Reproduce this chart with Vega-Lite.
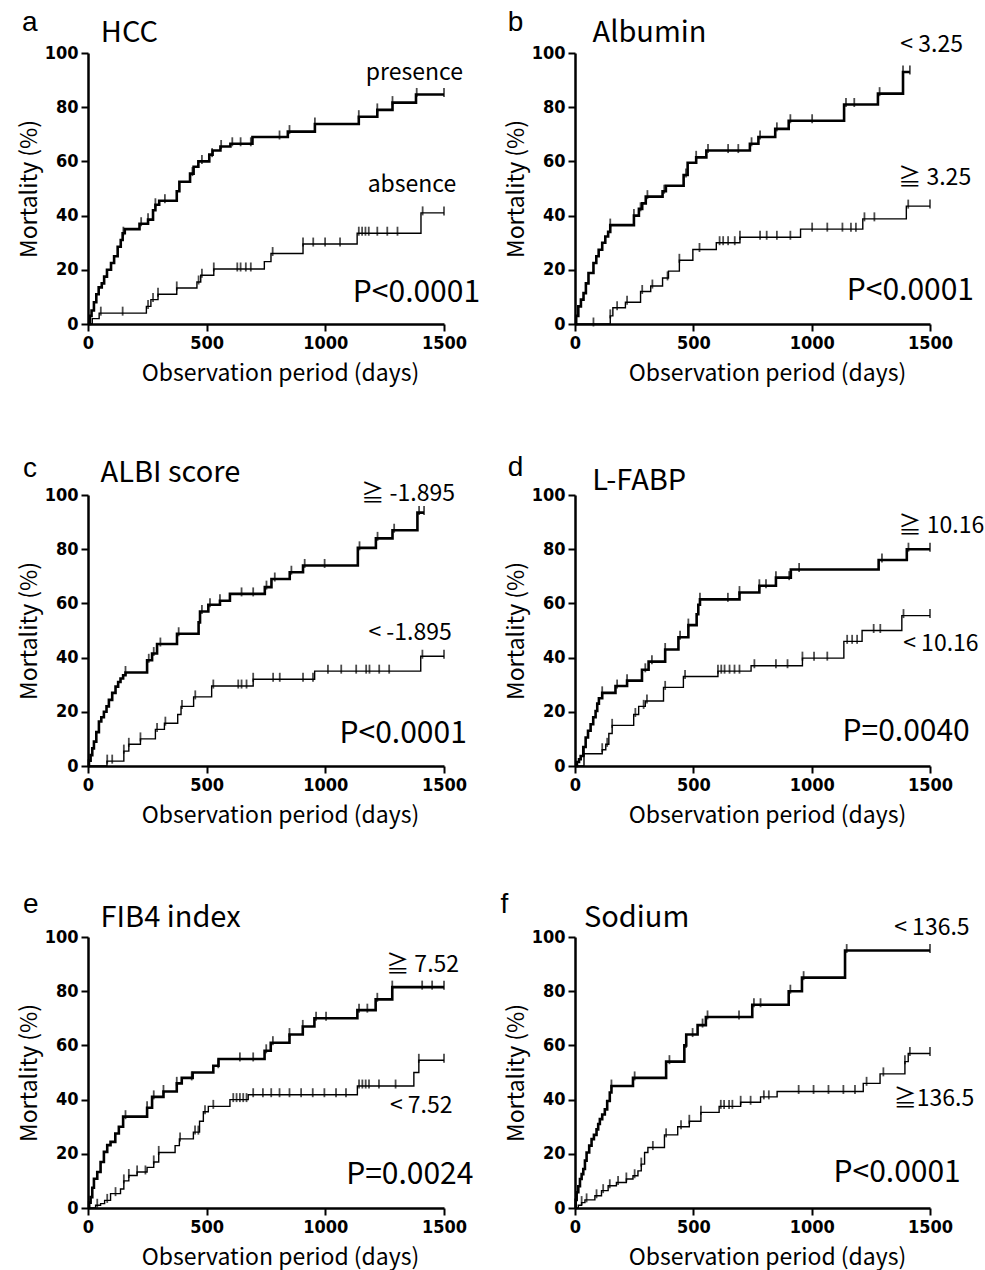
{
"$schema":"https://vega.github.io/schema/vega-lite/v6.json",
"background":"white",
"padding":{"left":18,"top":8,"right":5,"bottom":5},
"config":{
 "font":"Noto Sans CJK JP",
 "view":{"stroke":null},
 "axis":{"grid":false,"domainColor":"black","domainWidth":2.5,"tickColor":"black","tickWidth":2,"tickSize":7,"labelPadding":3,"labelFont":"Liberation Sans Narrow, DejaVu Sans Condensed, sans-serif","labelFontWeight":"bold","labelFontSize":18,"labelColor":"black","labelFlush":false,"labelOverlap":false,"titleFont":"Noto Sans CJK JP","titleFontWeight":"normal","titleFontSize":23,"titleColor":"black","titlePadding":6,"format":"d"},
 "axisX":{"titlePadding":10,"titleX":192,"titleAlign":"center"},
 "axisY":{"titlePadding":3},
 "style":{
  "letter":{"font":"Liberation Sans","fontSize":28,"align":"left","baseline":"alphabetic","fill":"black"},
  "ttl":{"font":"Noto Sans CJK JP","fontSize":29,"align":"left","baseline":"alphabetic","fill":"black"},
  "grp":{"font":"Noto Sans CJK JP","fontSize":23,"align":"center","baseline":"alphabetic","fill":"black"},
  "pv":{"font":"Noto Sans CJK JP","fontSize":30,"align":"right","baseline":"alphabetic","fill":"black"}
 }
},
"datasets":{
"one":[{}],
"km":[
{"p":"a","g":"hi","t":0,"m":0},{"p":"a","g":"hi","t":8,"m":3},{"p":"a","g":"hi","t":15,"m":5},{"p":"a","g":"hi","t":25,"m":8},{"p":"a","g":"hi","t":35,"m":11},{"p":"a","g":"hi","t":45,"m":13.5},{"p":"a","g":"hi","t":58,"m":15},{"p":"a","g":"hi","t":68,"m":17.5},{"p":"a","g":"hi","t":80,"m":20},{"p":"a","g":"hi","t":97,"m":22.5},{"p":"a","g":"hi","t":110,"m":25},{"p":"a","g":"hi","t":125,"m":28.5},{"p":"a","g":"hi","t":138,"m":31},{"p":"a","g":"hi","t":146,"m":33.5},{"p":"a","g":"hi","t":155,"m":35},{"p":"a","g":"hi","t":217,"m":37},{"p":"a","g":"hi","t":253,"m":38.5},{"p":"a","g":"hi","t":274,"m":42},{"p":"a","g":"hi","t":284,"m":44},{"p":"a","g":"hi","t":300,"m":45.5},{"p":"a","g":"hi","t":374,"m":49},{"p":"a","g":"hi","t":385,"m":52.5},{"p":"a","g":"hi","t":430,"m":55.5},{"p":"a","g":"hi","t":445,"m":58},{"p":"a","g":"hi","t":465,"m":60},{"p":"a","g":"hi","t":511,"m":62.5},{"p":"a","g":"hi","t":525,"m":64},{"p":"a","g":"hi","t":558,"m":65.5},{"p":"a","g":"hi","t":600,"m":66.5},{"p":"a","g":"hi","t":693,"m":69},{"p":"a","g":"hi","t":842,"m":71},{"p":"a","g":"hi","t":956,"m":73.8},{"p":"a","g":"hi","t":1141,"m":76.5},{"p":"a","g":"hi","t":1219,"m":79},{"p":"a","g":"hi","t":1283,"m":81.7},{"p":"a","g":"hi","t":1382,"m":84.7},{"p":"a","g":"hi","t":1500,"m":84.7},
{"p":"a","g":"lo","t":0,"m":0},{"p":"a","g":"lo","t":18,"m":2},{"p":"a","g":"lo","t":47,"m":4},{"p":"a","g":"lo","t":246,"m":6.5},{"p":"a","g":"lo","t":265,"m":9},{"p":"a","g":"lo","t":295,"m":11},{"p":"a","g":"lo","t":374,"m":13.3},{"p":"a","g":"lo","t":459,"m":15.5},{"p":"a","g":"lo","t":475,"m":18},{"p":"a","g":"lo","t":530,"m":20.3},{"p":"a","g":"lo","t":743,"m":23},{"p":"a","g":"lo","t":771,"m":26},{"p":"a","g":"lo","t":906,"m":29.5},{"p":"a","g":"lo","t":1134,"m":33.5},{"p":"a","g":"lo","t":1403,"m":41},{"p":"a","g":"lo","t":1500,"m":41},
{"p":"b","g":"hi","t":0,"m":0},{"p":"b","g":"hi","t":5,"m":3},{"p":"b","g":"hi","t":14,"m":6.5},{"p":"b","g":"hi","t":25,"m":9},{"p":"b","g":"hi","t":36,"m":11.4},{"p":"b","g":"hi","t":46,"m":15},{"p":"b","g":"hi","t":57,"m":18.8},{"p":"b","g":"hi","t":78,"m":22.5},{"p":"b","g":"hi","t":90,"m":25},{"p":"b","g":"hi","t":100,"m":27.4},{"p":"b","g":"hi","t":115,"m":30},{"p":"b","g":"hi","t":128,"m":32.3},{"p":"b","g":"hi","t":140,"m":34},{"p":"b","g":"hi","t":149,"m":36.5},{"p":"b","g":"hi","t":249,"m":40},{"p":"b","g":"hi","t":270,"m":42.5},{"p":"b","g":"hi","t":284,"m":44.5},{"p":"b","g":"hi","t":299,"m":47},{"p":"b","g":"hi","t":370,"m":49},{"p":"b","g":"hi","t":384,"m":51},{"p":"b","g":"hi","t":459,"m":55},{"p":"b","g":"hi","t":476,"m":59.5},{"p":"b","g":"hi","t":512,"m":61.5},{"p":"b","g":"hi","t":555,"m":64},{"p":"b","g":"hi","t":739,"m":66.5},{"p":"b","g":"hi","t":775,"m":69},{"p":"b","g":"hi","t":846,"m":72},{"p":"b","g":"hi","t":903,"m":75},{"p":"b","g":"hi","t":1137,"m":81},{"p":"b","g":"hi","t":1280,"m":85},{"p":"b","g":"hi","t":1386,"m":93},{"p":"b","g":"hi","t":1415,"m":93},
{"p":"b","g":"lo","t":0,"m":0},{"p":"b","g":"lo","t":149,"m":3},{"p":"b","g":"lo","t":160,"m":6},{"p":"b","g":"lo","t":213,"m":8},{"p":"b","g":"lo","t":277,"m":12},{"p":"b","g":"lo","t":320,"m":14},{"p":"b","g":"lo","t":370,"m":17},{"p":"b","g":"lo","t":395,"m":19.5},{"p":"b","g":"lo","t":441,"m":23.5},{"p":"b","g":"lo","t":498,"m":27.5},{"p":"b","g":"lo","t":597,"m":30},{"p":"b","g":"lo","t":697,"m":32},{"p":"b","g":"lo","t":953,"m":35},{"p":"b","g":"lo","t":1216,"m":38.8},{"p":"b","g":"lo","t":1400,"m":43.5},{"p":"b","g":"lo","t":1500,"m":43.5},
{"p":"c","g":"hi","t":0,"m":0},{"p":"c","g":"hi","t":4,"m":2},{"p":"c","g":"hi","t":11,"m":4},{"p":"c","g":"hi","t":18,"m":6.5},{"p":"c","g":"hi","t":25,"m":9},{"p":"c","g":"hi","t":35,"m":12.5},{"p":"c","g":"hi","t":46,"m":16.4},{"p":"c","g":"hi","t":56,"m":18},{"p":"c","g":"hi","t":67,"m":20},{"p":"c","g":"hi","t":78,"m":22},{"p":"c","g":"hi","t":88,"m":24.4},{"p":"c","g":"hi","t":102,"m":27},{"p":"c","g":"hi","t":116,"m":29.3},{"p":"c","g":"hi","t":127,"m":31},{"p":"c","g":"hi","t":137,"m":32.3},{"p":"c","g":"hi","t":148,"m":33.5},{"p":"c","g":"hi","t":158,"m":34.5},{"p":"c","g":"hi","t":249,"m":39},{"p":"c","g":"hi","t":270,"m":41.5},{"p":"c","g":"hi","t":291,"m":45},{"p":"c","g":"hi","t":375,"m":48.8},{"p":"c","g":"hi","t":466,"m":53},{"p":"c","g":"hi","t":472,"m":57},{"p":"c","g":"hi","t":507,"m":59.5},{"p":"c","g":"hi","t":556,"m":61},{"p":"c","g":"hi","t":598,"m":63.5},{"p":"c","g":"hi","t":745,"m":66},{"p":"c","g":"hi","t":773,"m":69},{"p":"c","g":"hi","t":850,"m":71.5},{"p":"c","g":"hi","t":906,"m":74},{"p":"c","g":"hi","t":1137,"m":80.5},{"p":"c","g":"hi","t":1213,"m":84},{"p":"c","g":"hi","t":1283,"m":87},{"p":"c","g":"hi","t":1388,"m":93.5},{"p":"c","g":"hi","t":1416,"m":93.5},
{"p":"c","g":"lo","t":0,"m":0},{"p":"c","g":"lo","t":80,"m":1.8},{"p":"c","g":"lo","t":151,"m":5.5},{"p":"c","g":"lo","t":172,"m":8},{"p":"c","g":"lo","t":221,"m":10},{"p":"c","g":"lo","t":284,"m":13.5},{"p":"c","g":"lo","t":322,"m":15.8},{"p":"c","g":"lo","t":378,"m":19},{"p":"c","g":"lo","t":392,"m":22},{"p":"c","g":"lo","t":445,"m":25.5},{"p":"c","g":"lo","t":521,"m":29.5},{"p":"c","g":"lo","t":696,"m":32},{"p":"c","g":"lo","t":955,"m":35},{"p":"c","g":"lo","t":1402,"m":40.5},{"p":"c","g":"lo","t":1500,"m":40.5},
{"p":"d","g":"hi","t":0,"m":0},{"p":"d","g":"hi","t":8,"m":1.5},{"p":"d","g":"hi","t":17,"m":2.5},{"p":"d","g":"hi","t":24,"m":3.7},{"p":"d","g":"hi","t":35,"m":7},{"p":"d","g":"hi","t":45,"m":10.5},{"p":"d","g":"hi","t":55,"m":13},{"p":"d","g":"hi","t":66,"m":15.4},{"p":"d","g":"hi","t":77,"m":18},{"p":"d","g":"hi","t":87,"m":20.3},{"p":"d","g":"hi","t":94,"m":23},{"p":"d","g":"hi","t":101,"m":25},{"p":"d","g":"hi","t":115,"m":27},{"p":"d","g":"hi","t":171,"m":29.5},{"p":"d","g":"hi","t":220,"m":31.5},{"p":"d","g":"hi","t":283,"m":35.5},{"p":"d","g":"hi","t":311,"m":38.5},{"p":"d","g":"hi","t":381,"m":43},{"p":"d","g":"hi","t":437,"m":47.5},{"p":"d","g":"hi","t":479,"m":52},{"p":"d","g":"hi","t":514,"m":56},{"p":"d","g":"hi","t":521,"m":59.5},{"p":"d","g":"hi","t":528,"m":61.5},{"p":"d","g":"hi","t":695,"m":64},{"p":"d","g":"hi","t":779,"m":66.5},{"p":"d","g":"hi","t":849,"m":69.5},{"p":"d","g":"hi","t":912,"m":72.5},{"p":"d","g":"hi","t":1283,"m":76},{"p":"d","g":"hi","t":1402,"m":80},{"p":"d","g":"hi","t":1500,"m":80},
{"p":"d","g":"lo","t":0,"m":0},{"p":"d","g":"lo","t":38,"m":4.5},{"p":"d","g":"lo","t":115,"m":6},{"p":"d","g":"lo","t":130,"m":8},{"p":"d","g":"lo","t":143,"m":12},{"p":"d","g":"lo","t":157,"m":15},{"p":"d","g":"lo","t":248,"m":19},{"p":"d","g":"lo","t":269,"m":22},{"p":"d","g":"lo","t":297,"m":24},{"p":"d","g":"lo","t":374,"m":29},{"p":"d","g":"lo","t":458,"m":33},{"p":"d","g":"lo","t":604,"m":35},{"p":"d","g":"lo","t":744,"m":37},{"p":"d","g":"lo","t":961,"m":39.8},{"p":"d","g":"lo","t":1136,"m":46},{"p":"d","g":"lo","t":1213,"m":50},{"p":"d","g":"lo","t":1381,"m":55.5},{"p":"d","g":"lo","t":1500,"m":55.5},
{"p":"e","g":"hi","t":0,"m":0},{"p":"e","g":"hi","t":5,"m":2},{"p":"e","g":"hi","t":11,"m":4},{"p":"e","g":"hi","t":18,"m":7.5},{"p":"e","g":"hi","t":25,"m":10.8},{"p":"e","g":"hi","t":39,"m":13.3},{"p":"e","g":"hi","t":53,"m":17},{"p":"e","g":"hi","t":67,"m":20.7},{"p":"e","g":"hi","t":81,"m":23.2},{"p":"e","g":"hi","t":95,"m":24.4},{"p":"e","g":"hi","t":115,"m":27.5},{"p":"e","g":"hi","t":130,"m":30},{"p":"e","g":"hi","t":148,"m":33.7},{"p":"e","g":"hi","t":249,"m":37},{"p":"e","g":"hi","t":270,"m":41},{"p":"e","g":"hi","t":318,"m":43},{"p":"e","g":"hi","t":374,"m":46},{"p":"e","g":"hi","t":395,"m":48},{"p":"e","g":"hi","t":441,"m":50},{"p":"e","g":"hi","t":528,"m":52.5},{"p":"e","g":"hi","t":550,"m":55},{"p":"e","g":"hi","t":744,"m":58},{"p":"e","g":"hi","t":770,"m":61},{"p":"e","g":"hi","t":849,"m":64},{"p":"e","g":"hi","t":905,"m":67},{"p":"e","g":"hi","t":954,"m":70},{"p":"e","g":"hi","t":1135,"m":73},{"p":"e","g":"hi","t":1212,"m":77},{"p":"e","g":"hi","t":1282,"m":81.5},{"p":"e","g":"hi","t":1500,"m":81.5},
{"p":"e","g":"lo","t":0,"m":0},{"p":"e","g":"lo","t":32,"m":1},{"p":"e","g":"lo","t":53,"m":1.6},{"p":"e","g":"lo","t":70,"m":2.8},{"p":"e","g":"lo","t":95,"m":5.3},{"p":"e","g":"lo","t":137,"m":7},{"p":"e","g":"lo","t":151,"m":10},{"p":"e","g":"lo","t":172,"m":12},{"p":"e","g":"lo","t":207,"m":13.3},{"p":"e","g":"lo","t":249,"m":15},{"p":"e","g":"lo","t":277,"m":17},{"p":"e","g":"lo","t":298,"m":20.5},{"p":"e","g":"lo","t":367,"m":23},{"p":"e","g":"lo","t":385,"m":25.5},{"p":"e","g":"lo","t":444,"m":28},{"p":"e","g":"lo","t":470,"m":32},{"p":"e","g":"lo","t":486,"m":35.5},{"p":"e","g":"lo","t":507,"m":37.5},{"p":"e","g":"lo","t":598,"m":40},{"p":"e","g":"lo","t":675,"m":41.8},{"p":"e","g":"lo","t":1135,"m":45},{"p":"e","g":"lo","t":1373,"m":50},{"p":"e","g":"lo","t":1394,"m":54.5},{"p":"e","g":"lo","t":1500,"m":54.5},
{"p":"f","g":"hi","t":0,"m":0},{"p":"f","g":"hi","t":3,"m":3},{"p":"f","g":"hi","t":7,"m":5.8},{"p":"f","g":"hi","t":14,"m":8},{"p":"f","g":"hi","t":21,"m":10.7},{"p":"f","g":"hi","t":28,"m":12.5},{"p":"f","g":"hi","t":35,"m":14.4},{"p":"f","g":"hi","t":42,"m":17.5},{"p":"f","g":"hi","t":49,"m":20.5},{"p":"f","g":"hi","t":60,"m":23},{"p":"f","g":"hi","t":70,"m":25.4},{"p":"f","g":"hi","t":80,"m":27},{"p":"f","g":"hi","t":91,"m":29},{"p":"f","g":"hi","t":98,"m":31},{"p":"f","g":"hi","t":105,"m":32.8},{"p":"f","g":"hi","t":115,"m":34.5},{"p":"f","g":"hi","t":126,"m":36.4},{"p":"f","g":"hi","t":136,"m":39.5},{"p":"f","g":"hi","t":147,"m":42.6},{"p":"f","g":"hi","t":154,"m":45},{"p":"f","g":"hi","t":245,"m":48},{"p":"f","g":"hi","t":385,"m":54},{"p":"f","g":"hi","t":462,"m":60},{"p":"f","g":"hi","t":470,"m":64},{"p":"f","g":"hi","t":518,"m":67.5},{"p":"f","g":"hi","t":553,"m":70.5},{"p":"f","g":"hi","t":749,"m":75},{"p":"f","g":"hi","t":903,"m":80},{"p":"f","g":"hi","t":959,"m":85},{"p":"f","g":"hi","t":1141,"m":95},{"p":"f","g":"hi","t":1500,"m":95},
{"p":"f","g":"lo","t":0,"m":0},{"p":"f","g":"lo","t":14,"m":1},{"p":"f","g":"lo","t":28,"m":2},{"p":"f","g":"lo","t":42,"m":3},{"p":"f","g":"lo","t":84,"m":4.5},{"p":"f","g":"lo","t":112,"m":6.4},{"p":"f","g":"lo","t":140,"m":8.2},{"p":"f","g":"lo","t":175,"m":9.4},{"p":"f","g":"lo","t":217,"m":10.7},{"p":"f","g":"lo","t":245,"m":11.9},{"p":"f","g":"lo","t":266,"m":13.7},{"p":"f","g":"lo","t":280,"m":16.2},{"p":"f","g":"lo","t":294,"m":20.5},{"p":"f","g":"lo","t":308,"m":22.3},{"p":"f","g":"lo","t":378,"m":27},{"p":"f","g":"lo","t":434,"m":30},{"p":"f","g":"lo","t":483,"m":32},{"p":"f","g":"lo","t":532,"m":35.3},{"p":"f","g":"lo","t":609,"m":37.5},{"p":"f","g":"lo","t":700,"m":39},{"p":"f","g":"lo","t":784,"m":41},{"p":"f","g":"lo","t":854,"m":43},{"p":"f","g":"lo","t":1218,"m":46},{"p":"f","g":"lo","t":1289,"m":49.5},{"p":"f","g":"lo","t":1394,"m":54},{"p":"f","g":"lo","t":1408,"m":57},{"p":"f","g":"lo","t":1500,"m":57}
],
"cz":[
{"p":"a","g":"hi","t":149,"m":33.5},{"p":"a","g":"hi","t":224,"m":37},{"p":"a","g":"hi","t":253,"m":38.5},{"p":"a","g":"hi","t":284,"m":44},{"p":"a","g":"hi","t":324,"m":45.5},{"p":"a","g":"hi","t":440,"m":55.5},{"p":"a","g":"hi","t":480,"m":60},{"p":"a","g":"hi","t":523,"m":62.5},{"p":"a","g":"hi","t":561,"m":65.5},{"p":"a","g":"hi","t":608,"m":66.5},{"p":"a","g":"hi","t":643,"m":66.5},{"p":"a","g":"hi","t":686,"m":66.5},{"p":"a","g":"hi","t":807,"m":69},{"p":"a","g":"hi","t":849,"m":71},{"p":"a","g":"hi","t":956,"m":73.8},{"p":"a","g":"hi","t":1141,"m":76.5},{"p":"a","g":"hi","t":1219,"m":79},{"p":"a","g":"hi","t":1283,"m":81.7},{"p":"a","g":"hi","t":1385,"m":84.7},{"p":"a","g":"hi","t":1500,"m":84.7},
{"p":"a","g":"lo","t":54,"m":4},{"p":"a","g":"lo","t":146,"m":4},{"p":"a","g":"lo","t":253,"m":6.5},{"p":"a","g":"lo","t":274,"m":9},{"p":"a","g":"lo","t":295,"m":11},{"p":"a","g":"lo","t":374,"m":13.3},{"p":"a","g":"lo","t":466,"m":15.5},{"p":"a","g":"lo","t":480,"m":18},{"p":"a","g":"lo","t":530,"m":20.3},{"p":"a","g":"lo","t":629,"m":20.3},{"p":"a","g":"lo","t":643,"m":20.3},{"p":"a","g":"lo","t":665,"m":20.3},{"p":"a","g":"lo","t":686,"m":20.3},{"p":"a","g":"lo","t":778,"m":26},{"p":"a","g":"lo","t":906,"m":29.5},{"p":"a","g":"lo","t":949,"m":29.5},{"p":"a","g":"lo","t":999,"m":29.5},{"p":"a","g":"lo","t":1062,"m":29.5},{"p":"a","g":"lo","t":1141,"m":33.5},{"p":"a","g":"lo","t":1155,"m":33.5},{"p":"a","g":"lo","t":1169,"m":33.5},{"p":"a","g":"lo","t":1183,"m":33.5},{"p":"a","g":"lo","t":1219,"m":33.5},{"p":"a","g":"lo","t":1261,"m":33.5},{"p":"a","g":"lo","t":1304,"m":33.5},{"p":"a","g":"lo","t":1410,"m":41},{"p":"a","g":"lo","t":1500,"m":41},
{"p":"b","g":"hi","t":149,"m":36.5},{"p":"b","g":"hi","t":249,"m":40},{"p":"b","g":"hi","t":277,"m":42.5},{"p":"b","g":"hi","t":306,"m":47},{"p":"b","g":"hi","t":377,"m":49},{"p":"b","g":"hi","t":469,"m":55},{"p":"b","g":"hi","t":512,"m":61.5},{"p":"b","g":"hi","t":562,"m":64},{"p":"b","g":"hi","t":647,"m":64},{"p":"b","g":"hi","t":690,"m":64},{"p":"b","g":"hi","t":746,"m":66.5},{"p":"b","g":"hi","t":782,"m":69},{"p":"b","g":"hi","t":853,"m":72},{"p":"b","g":"hi","t":910,"m":75},{"p":"b","g":"hi","t":1002,"m":75},{"p":"b","g":"hi","t":1145,"m":81},{"p":"b","g":"hi","t":1180,"m":81},{"p":"b","g":"hi","t":1287,"m":85},{"p":"b","g":"hi","t":1386,"m":93},{"p":"b","g":"hi","t":1415,"m":93},
{"p":"b","g":"lo","t":78,"m":0},{"p":"b","g":"lo","t":149,"m":3},{"p":"b","g":"lo","t":178,"m":6},{"p":"b","g":"lo","t":220,"m":8},{"p":"b","g":"lo","t":284,"m":12},{"p":"b","g":"lo","t":327,"m":14},{"p":"b","g":"lo","t":391,"m":17},{"p":"b","g":"lo","t":441,"m":23.5},{"p":"b","g":"lo","t":526,"m":27.5},{"p":"b","g":"lo","t":611,"m":30},{"p":"b","g":"lo","t":626,"m":30},{"p":"b","g":"lo","t":647,"m":30},{"p":"b","g":"lo","t":675,"m":30},{"p":"b","g":"lo","t":697,"m":32},{"p":"b","g":"lo","t":782,"m":32},{"p":"b","g":"lo","t":810,"m":32},{"p":"b","g":"lo","t":853,"m":32},{"p":"b","g":"lo","t":910,"m":32},{"p":"b","g":"lo","t":1002,"m":35},{"p":"b","g":"lo","t":1066,"m":35},{"p":"b","g":"lo","t":1130,"m":35},{"p":"b","g":"lo","t":1166,"m":35},{"p":"b","g":"lo","t":1187,"m":35},{"p":"b","g":"lo","t":1223,"m":38.8},{"p":"b","g":"lo","t":1265,"m":38.8},{"p":"b","g":"lo","t":1408,"m":43.5},{"p":"b","g":"lo","t":1500,"m":43.5},
{"p":"c","g":"hi","t":158,"m":34.5},{"p":"c","g":"hi","t":256,"m":39},{"p":"c","g":"hi","t":277,"m":41.5},{"p":"c","g":"hi","t":305,"m":45},{"p":"c","g":"hi","t":382,"m":48.8},{"p":"c","g":"hi","t":480,"m":57},{"p":"c","g":"hi","t":514,"m":59.5},{"p":"c","g":"hi","t":556,"m":61},{"p":"c","g":"hi","t":647,"m":63.5},{"p":"c","g":"hi","t":696,"m":63.5},{"p":"c","g":"hi","t":752,"m":66},{"p":"c","g":"hi","t":787,"m":69},{"p":"c","g":"hi","t":857,"m":71.5},{"p":"c","g":"hi","t":913,"m":74},{"p":"c","g":"hi","t":997,"m":74},{"p":"c","g":"hi","t":1144,"m":80.5},{"p":"c","g":"hi","t":1220,"m":84},{"p":"c","g":"hi","t":1290,"m":87},{"p":"c","g":"hi","t":1395,"m":93.5},{"p":"c","g":"hi","t":1416,"m":93.5},
{"p":"c","g":"lo","t":81,"m":1.8},{"p":"c","g":"lo","t":102,"m":1.8},{"p":"c","g":"lo","t":151,"m":5.5},{"p":"c","g":"lo","t":172,"m":8},{"p":"c","g":"lo","t":221,"m":10},{"p":"c","g":"lo","t":291,"m":13.5},{"p":"c","g":"lo","t":326,"m":15.8},{"p":"c","g":"lo","t":396,"m":22},{"p":"c","g":"lo","t":452,"m":25.5},{"p":"c","g":"lo","t":528,"m":29.5},{"p":"c","g":"lo","t":633,"m":29.5},{"p":"c","g":"lo","t":647,"m":29.5},{"p":"c","g":"lo","t":668,"m":29.5},{"p":"c","g":"lo","t":696,"m":32},{"p":"c","g":"lo","t":780,"m":32},{"p":"c","g":"lo","t":808,"m":32},{"p":"c","g":"lo","t":906,"m":32},{"p":"c","g":"lo","t":948,"m":32},{"p":"c","g":"lo","t":1011,"m":35},{"p":"c","g":"lo","t":1067,"m":35},{"p":"c","g":"lo","t":1130,"m":35},{"p":"c","g":"lo","t":1172,"m":35},{"p":"c","g":"lo","t":1186,"m":35},{"p":"c","g":"lo","t":1227,"m":35},{"p":"c","g":"lo","t":1269,"m":35},{"p":"c","g":"lo","t":1409,"m":40.5},{"p":"c","g":"lo","t":1500,"m":40.5},
{"p":"d","g":"hi","t":115,"m":27},{"p":"d","g":"hi","t":178,"m":29.5},{"p":"d","g":"hi","t":220,"m":31.5},{"p":"d","g":"hi","t":297,"m":35.5},{"p":"d","g":"hi","t":325,"m":38.5},{"p":"d","g":"hi","t":381,"m":43},{"p":"d","g":"hi","t":444,"m":47.5},{"p":"d","g":"hi","t":479,"m":52},{"p":"d","g":"hi","t":528,"m":61.5},{"p":"d","g":"hi","t":646,"m":61.5},{"p":"d","g":"hi","t":695,"m":64},{"p":"d","g":"hi","t":779,"m":66.5},{"p":"d","g":"hi","t":807,"m":66.5},{"p":"d","g":"hi","t":849,"m":69.5},{"p":"d","g":"hi","t":905,"m":69.5},{"p":"d","g":"hi","t":947,"m":72.5},{"p":"d","g":"hi","t":1297,"m":76},{"p":"d","g":"hi","t":1409,"m":80},{"p":"d","g":"hi","t":1500,"m":80},
{"p":"d","g":"lo","t":38,"m":4.5},{"p":"d","g":"lo","t":115,"m":6},{"p":"d","g":"lo","t":136,"m":8},{"p":"d","g":"lo","t":157,"m":15},{"p":"d","g":"lo","t":255,"m":19},{"p":"d","g":"lo","t":290,"m":22},{"p":"d","g":"lo","t":304,"m":24},{"p":"d","g":"lo","t":381,"m":29},{"p":"d","g":"lo","t":465,"m":33},{"p":"d","g":"lo","t":604,"m":35},{"p":"d","g":"lo","t":618,"m":35},{"p":"d","g":"lo","t":632,"m":35},{"p":"d","g":"lo","t":653,"m":35},{"p":"d","g":"lo","t":674,"m":35},{"p":"d","g":"lo","t":695,"m":35},{"p":"d","g":"lo","t":758,"m":37},{"p":"d","g":"lo","t":849,"m":37},{"p":"d","g":"lo","t":898,"m":37},{"p":"d","g":"lo","t":961,"m":39.8},{"p":"d","g":"lo","t":1010,"m":39.8},{"p":"d","g":"lo","t":1066,"m":39.8},{"p":"d","g":"lo","t":1150,"m":46},{"p":"d","g":"lo","t":1171,"m":46},{"p":"d","g":"lo","t":1192,"m":46},{"p":"d","g":"lo","t":1262,"m":50},{"p":"d","g":"lo","t":1290,"m":50},{"p":"d","g":"lo","t":1388,"m":55.5},{"p":"d","g":"lo","t":1500,"m":55.5},
{"p":"e","g":"hi","t":158,"m":33.7},{"p":"e","g":"hi","t":249,"m":37},{"p":"e","g":"hi","t":277,"m":41},{"p":"e","g":"hi","t":318,"m":43},{"p":"e","g":"hi","t":374,"m":46},{"p":"e","g":"hi","t":437,"m":48},{"p":"e","g":"hi","t":549,"m":52.5},{"p":"e","g":"hi","t":640,"m":55},{"p":"e","g":"hi","t":696,"m":55},{"p":"e","g":"hi","t":751,"m":58},{"p":"e","g":"hi","t":779,"m":61},{"p":"e","g":"hi","t":849,"m":64},{"p":"e","g":"hi","t":905,"m":67},{"p":"e","g":"hi","t":961,"m":70},{"p":"e","g":"hi","t":1003,"m":70},{"p":"e","g":"hi","t":1142,"m":73},{"p":"e","g":"hi","t":1177,"m":73},{"p":"e","g":"hi","t":1219,"m":77},{"p":"e","g":"hi","t":1282,"m":81.5},{"p":"e","g":"hi","t":1408,"m":81.5},{"p":"e","g":"hi","t":1450,"m":81.5},{"p":"e","g":"hi","t":1500,"m":81.5},
{"p":"e","g":"lo","t":39,"m":1},{"p":"e","g":"lo","t":81,"m":2.8},{"p":"e","g":"lo","t":116,"m":5.3},{"p":"e","g":"lo","t":151,"m":10},{"p":"e","g":"lo","t":172,"m":12},{"p":"e","g":"lo","t":207,"m":13.3},{"p":"e","g":"lo","t":242,"m":13.3},{"p":"e","g":"lo","t":277,"m":17},{"p":"e","g":"lo","t":298,"m":20.5},{"p":"e","g":"lo","t":388,"m":25.5},{"p":"e","g":"lo","t":451,"m":28},{"p":"e","g":"lo","t":465,"m":28},{"p":"e","g":"lo","t":493,"m":35.5},{"p":"e","g":"lo","t":528,"m":37.5},{"p":"e","g":"lo","t":612,"m":40},{"p":"e","g":"lo","t":626,"m":40},{"p":"e","g":"lo","t":640,"m":40},{"p":"e","g":"lo","t":654,"m":40},{"p":"e","g":"lo","t":668,"m":40},{"p":"e","g":"lo","t":696,"m":41.8},{"p":"e","g":"lo","t":737,"m":41.8},{"p":"e","g":"lo","t":772,"m":41.8},{"p":"e","g":"lo","t":807,"m":41.8},{"p":"e","g":"lo","t":849,"m":41.8},{"p":"e","g":"lo","t":898,"m":41.8},{"p":"e","g":"lo","t":947,"m":41.8},{"p":"e","g":"lo","t":996,"m":41.8},{"p":"e","g":"lo","t":1045,"m":41.8},{"p":"e","g":"lo","t":1087,"m":41.8},{"p":"e","g":"lo","t":1142,"m":45},{"p":"e","g":"lo","t":1156,"m":45},{"p":"e","g":"lo","t":1170,"m":45},{"p":"e","g":"lo","t":1184,"m":45},{"p":"e","g":"lo","t":1226,"m":45},{"p":"e","g":"lo","t":1296,"m":45},{"p":"e","g":"lo","t":1394,"m":54.5},{"p":"e","g":"lo","t":1500,"m":54.5},
{"p":"f","g":"hi","t":154,"m":45},{"p":"f","g":"hi","t":252,"m":48},{"p":"f","g":"hi","t":399,"m":54},{"p":"f","g":"hi","t":469,"m":60},{"p":"f","g":"hi","t":497,"m":64},{"p":"f","g":"hi","t":539,"m":67.5},{"p":"f","g":"hi","t":560,"m":70.5},{"p":"f","g":"hi","t":693,"m":70.5},{"p":"f","g":"hi","t":756,"m":75},{"p":"f","g":"hi","t":784,"m":75},{"p":"f","g":"hi","t":910,"m":80},{"p":"f","g":"hi","t":966,"m":85},{"p":"f","g":"hi","t":1148,"m":95},{"p":"f","g":"hi","t":1500,"m":95},
{"p":"f","g":"lo","t":28,"m":2},{"p":"f","g":"lo","t":49,"m":3},{"p":"f","g":"lo","t":91,"m":4.5},{"p":"f","g":"lo","t":119,"m":6.4},{"p":"f","g":"lo","t":147,"m":8.2},{"p":"f","g":"lo","t":182,"m":9.4},{"p":"f","g":"lo","t":217,"m":10.7},{"p":"f","g":"lo","t":252,"m":11.9},{"p":"f","g":"lo","t":280,"m":16.2},{"p":"f","g":"lo","t":329,"m":22.3},{"p":"f","g":"lo","t":385,"m":27},{"p":"f","g":"lo","t":448,"m":30},{"p":"f","g":"lo","t":483,"m":32},{"p":"f","g":"lo","t":532,"m":35.3},{"p":"f","g":"lo","t":616,"m":37.5},{"p":"f","g":"lo","t":630,"m":37.5},{"p":"f","g":"lo","t":651,"m":37.5},{"p":"f","g":"lo","t":665,"m":37.5},{"p":"f","g":"lo","t":700,"m":39},{"p":"f","g":"lo","t":742,"m":39},{"p":"f","g":"lo","t":798,"m":41},{"p":"f","g":"lo","t":819,"m":41},{"p":"f","g":"lo","t":945,"m":43},{"p":"f","g":"lo","t":1008,"m":43},{"p":"f","g":"lo","t":1071,"m":43},{"p":"f","g":"lo","t":1134,"m":43},{"p":"f","g":"lo","t":1183,"m":43},{"p":"f","g":"lo","t":1232,"m":46},{"p":"f","g":"lo","t":1303,"m":49.5},{"p":"f","g":"lo","t":1394,"m":54},{"p":"f","g":"lo","t":1415,"m":57},{"p":"f","g":"lo","t":1500,"m":57}
]
},
"columns":2,
"bounds":"flush",
"spacing":{"row":171,"column":131},
"concat":[
 {"width":356,"height":271,"layer":[
  {"data":{"name":"km"},"transform":[{"filter":"datum.p==='a'"}],"mark":{"type":"line","interpolate":"step-after","color":"black"},
   "encoding":{"x":{"field":"t","type":"quantitative","scale":{"domain":[0,1500],"nice":false},"axis":{"values":[0,500,1000,1500],"title":"Observation period (days)"}},
   "y":{"field":"m","type":"quantitative","scale":{"domain":[0,100],"nice":false},"axis":{"values":[0,20,40,60,80,100],"title":"Mortality (%)"}},
   "strokeWidth":{"field":"g","type":"nominal","scale":{"domain":["hi","lo"],"range":[2.6,1.4]},"legend":null}}},
  {"data":{"name":"cz"},"transform":[{"filter":"datum.p==='a'"}],"mark":{"type":"tick","orient":"vertical","color":"black","thickness":1.8,"size":9,"yOffset":-2},
   "encoding":{"x":{"field":"t","type":"quantitative"},"y":{"field":"m","type":"quantitative"}}},
  {"data":{"name":"one"},"mark":{"type":"text","style":"letter"},"encoding":{"x":{"datum":-278},"y":{"datum":108.2},"text":{"value":"a"}}},
  {"data":{"name":"one"},"mark":{"type":"text","style":"ttl"},"encoding":{"x":{"datum":54},"y":{"datum":104.2},"text":{"value":"HCC"}}},
  {"data":{"name":"one"},"mark":{"type":"text","style":"grp"},"encoding":{"x":{"datum":1375},"y":{"datum":90},"text":{"value":"presence"}}},
  {"data":{"name":"one"},"mark":{"type":"text","style":"grp"},"encoding":{"x":{"datum":1365},"y":{"datum":48.8},"text":{"value":"absence"}}},
  {"data":{"name":"one"},"mark":{"type":"text","style":"pv"},"encoding":{"x":{"datum":1652},"y":{"datum":8.2},"text":{"value":"P<0.0001"}}}
 ]},
 {"width":355,"height":271,"layer":[
  {"data":{"name":"km"},"transform":[{"filter":"datum.p==='b'"}],"mark":{"type":"line","interpolate":"step-after","color":"black"},
   "encoding":{"x":{"field":"t","type":"quantitative","scale":{"domain":[0,1500],"nice":false},"axis":{"values":[0,500,1000,1500],"title":"Observation period (days)"}},
   "y":{"field":"m","type":"quantitative","scale":{"domain":[0,100],"nice":false},"axis":{"values":[0,20,40,60,80,100],"title":"Mortality (%)"}},
   "strokeWidth":{"field":"g","type":"nominal","scale":{"domain":["hi","lo"],"range":[2.6,1.4]},"legend":null}}},
  {"data":{"name":"cz"},"transform":[{"filter":"datum.p==='b'"}],"mark":{"type":"tick","orient":"vertical","color":"black","thickness":1.8,"size":9,"yOffset":-2},
   "encoding":{"x":{"field":"t","type":"quantitative"},"y":{"field":"m","type":"quantitative"}}},
  {"data":{"name":"one"},"mark":{"type":"text","style":"letter"},"encoding":{"x":{"datum":-284},"y":{"datum":108.2},"text":{"value":"b"}}},
  {"data":{"name":"one"},"mark":{"type":"text","style":"ttl"},"encoding":{"x":{"datum":74},"y":{"datum":104},"text":{"value":"Albumin"}}},
  {"data":{"name":"one"},"mark":{"type":"text","style":"grp"},"encoding":{"x":{"datum":1507},"y":{"datum":100.5},"text":{"value":"< 3.25"}}},
  {"data":{"name":"one"},"mark":{"type":"text","style":"grp"},"encoding":{"x":{"datum":1520},"y":{"datum":51.4},"text":{"value":"≧ 3.25"}}},
  {"data":{"name":"one"},"mark":{"type":"text","style":"pv"},"encoding":{"x":{"datum":1686},"y":{"datum":9},"text":{"value":"P<0.0001"}}}
 ]},
 {"width":356,"height":271,"layer":[
  {"data":{"name":"km"},"transform":[{"filter":"datum.p==='c'"}],"mark":{"type":"line","interpolate":"step-after","color":"black"},
   "encoding":{"x":{"field":"t","type":"quantitative","scale":{"domain":[0,1500],"nice":false},"axis":{"values":[0,500,1000,1500],"title":"Observation period (days)"}},
   "y":{"field":"m","type":"quantitative","scale":{"domain":[0,100],"nice":false},"axis":{"values":[0,20,40,60,80,100],"title":"Mortality (%)"}},
   "strokeWidth":{"field":"g","type":"nominal","scale":{"domain":["hi","lo"],"range":[2.6,1.4]},"legend":null}}},
  {"data":{"name":"cz"},"transform":[{"filter":"datum.p==='c'"}],"mark":{"type":"tick","orient":"vertical","color":"black","thickness":1.8,"size":9,"yOffset":-2},
   "encoding":{"x":{"field":"t","type":"quantitative"},"y":{"field":"m","type":"quantitative"}}},
  {"data":{"name":"one"},"mark":{"type":"text","style":"letter"},"encoding":{"x":{"datum":-274},"y":{"datum":106.6},"text":{"value":"c"}}},
  {"data":{"name":"one"},"mark":{"type":"text","style":"ttl"},"encoding":{"x":{"datum":53},"y":{"datum":104.8},"text":{"value":"ALBI score"}}},
  {"data":{"name":"one"},"mark":{"type":"text","style":"grp"},"encoding":{"x":{"datum":1349},"y":{"datum":97.8},"text":{"value":"≧ -1.895"}}},
  {"data":{"name":"one"},"mark":{"type":"text","style":"grp"},"encoding":{"x":{"datum":1357},"y":{"datum":46.5},"text":{"value":"< -1.895"}}},
  {"data":{"name":"one"},"mark":{"type":"text","style":"pv"},"encoding":{"x":{"datum":1596},"y":{"datum":8.5},"text":{"value":"P<0.0001"}}}
 ]},
 {"width":355,"height":271,"layer":[
  {"data":{"name":"km"},"transform":[{"filter":"datum.p==='d'"}],"mark":{"type":"line","interpolate":"step-after","color":"black"},
   "encoding":{"x":{"field":"t","type":"quantitative","scale":{"domain":[0,1500],"nice":false},"axis":{"values":[0,500,1000,1500],"title":"Observation period (days)"}},
   "y":{"field":"m","type":"quantitative","scale":{"domain":[0,100],"nice":false},"axis":{"values":[0,20,40,60,80,100],"title":"Mortality (%)"}},
   "strokeWidth":{"field":"g","type":"nominal","scale":{"domain":["hi","lo"],"range":[2.6,1.4]},"legend":null}}},
  {"data":{"name":"cz"},"transform":[{"filter":"datum.p==='d'"}],"mark":{"type":"tick","orient":"vertical","color":"black","thickness":1.8,"size":9,"yOffset":-2},
   "encoding":{"x":{"field":"t","type":"quantitative"},"y":{"field":"m","type":"quantitative"}}},
  {"data":{"name":"one"},"mark":{"type":"text","style":"letter"},"encoding":{"x":{"datum":-284},"y":{"datum":106.9},"text":{"value":"d"}}},
  {"data":{"name":"one"},"mark":{"type":"text","style":"ttl"},"encoding":{"x":{"datum":73},"y":{"datum":102},"text":{"value":"L-FABP"}}},
  {"data":{"name":"one"},"mark":{"type":"text","style":"grp"},"encoding":{"x":{"datum":1548},"y":{"datum":85.9},"text":{"value":"≧ 10.16"}}},
  {"data":{"name":"one"},"mark":{"type":"text","style":"grp"},"encoding":{"x":{"datum":1546},"y":{"datum":42.3},"text":{"value":"< 10.16"}}},
  {"data":{"name":"one"},"mark":{"type":"text","style":"pv"},"encoding":{"x":{"datum":1668},"y":{"datum":9.1},"text":{"value":"P=0.0040"}}}
 ]},
 {"width":356,"height":271,"layer":[
  {"data":{"name":"km"},"transform":[{"filter":"datum.p==='e'"}],"mark":{"type":"line","interpolate":"step-after","color":"black"},
   "encoding":{"x":{"field":"t","type":"quantitative","scale":{"domain":[0,1500],"nice":false},"axis":{"values":[0,500,1000,1500],"title":"Observation period (days)"}},
   "y":{"field":"m","type":"quantitative","scale":{"domain":[0,100],"nice":false},"axis":{"values":[0,20,40,60,80,100],"title":"Mortality (%)"}},
   "strokeWidth":{"field":"g","type":"nominal","scale":{"domain":["hi","lo"],"range":[2.6,1.4]},"legend":null}}},
  {"data":{"name":"cz"},"transform":[{"filter":"datum.p==='e'"}],"mark":{"type":"tick","orient":"vertical","color":"black","thickness":1.8,"size":9,"yOffset":-2},
   "encoding":{"x":{"field":"t","type":"quantitative"},"y":{"field":"m","type":"quantitative"}}},
  {"data":{"name":"one"},"mark":{"type":"text","style":"letter"},"encoding":{"x":{"datum":-274},"y":{"datum":109},"text":{"value":"e"}}},
  {"data":{"name":"one"},"mark":{"type":"text","style":"ttl"},"encoding":{"x":{"datum":53},"y":{"datum":103.8},"text":{"value":"FIB4 index"}}},
  {"data":{"name":"one"},"mark":{"type":"text","style":"grp"},"encoding":{"x":{"datum":1410},"y":{"datum":87.2},"text":{"value":"≧ 7.52"}}},
  {"data":{"name":"one"},"mark":{"type":"text","style":"grp"},"encoding":{"x":{"datum":1404},"y":{"datum":35},"text":{"value":"< 7.52"}}},
  {"data":{"name":"one"},"mark":{"type":"text","style":"pv"},"encoding":{"x":{"datum":1624},"y":{"datum":9},"text":{"value":"P=0.0024"}}}
 ]},
 {"width":355,"height":271,"layer":[
  {"data":{"name":"km"},"transform":[{"filter":"datum.p==='f'"}],"mark":{"type":"line","interpolate":"step-after","color":"black"},
   "encoding":{"x":{"field":"t","type":"quantitative","scale":{"domain":[0,1500],"nice":false},"axis":{"values":[0,500,1000,1500],"title":"Observation period (days)"}},
   "y":{"field":"m","type":"quantitative","scale":{"domain":[0,100],"nice":false},"axis":{"values":[0,20,40,60,80,100],"title":"Mortality (%)"}},
   "strokeWidth":{"field":"g","type":"nominal","scale":{"domain":["hi","lo"],"range":[2.6,1.4]},"legend":null}}},
  {"data":{"name":"cz"},"transform":[{"filter":"datum.p==='f'"}],"mark":{"type":"tick","orient":"vertical","color":"black","thickness":1.8,"size":9,"yOffset":-2},
   "encoding":{"x":{"field":"t","type":"quantitative"},"y":{"field":"m","type":"quantitative"}}},
  {"data":{"name":"one"},"mark":{"type":"text","style":"letter"},"encoding":{"x":{"datum":-315},"y":{"datum":109},"text":{"value":"f"}}},
  {"data":{"name":"one"},"mark":{"type":"text","style":"ttl"},"encoding":{"x":{"datum":38},"y":{"datum":103.8},"text":{"value":"Sodium"}}},
  {"data":{"name":"one"},"mark":{"type":"text","style":"grp"},"encoding":{"x":{"datum":1508},"y":{"datum":100.8},"text":{"value":"< 136.5"}}},
  {"data":{"name":"one"},"mark":{"type":"text","style":"grp"},"encoding":{"x":{"datum":1517},"y":{"datum":37.5},"text":{"value":"≧136.5"}}},
  {"data":{"name":"one"},"mark":{"type":"text","style":"pv"},"encoding":{"x":{"datum":1630},"y":{"datum":9.6},"text":{"value":"P<0.0001"}}}
 ]}
]
}
